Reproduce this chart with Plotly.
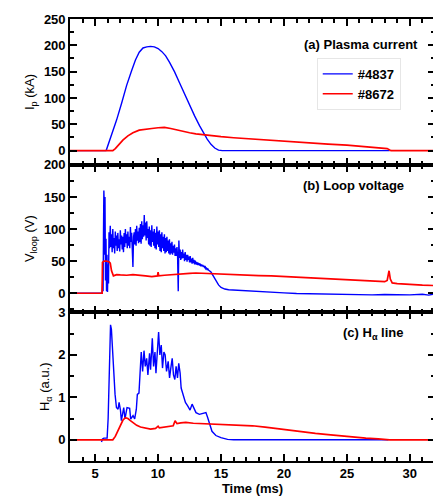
import plotly.graph_objects as go

# ---------------- data ----------------
series_names = ["#4837", "#8672"]

# (a) plasma current (kA)
t_ip_4837 = [3.0, 5.85, 5.9, 6.3, 6.7, 7.1, 7.5, 7.9, 8.2, 8.5, 8.8, 9.1, 9.4, 9.7, 10.0, 10.3,
             10.6, 10.9, 11.3, 11.7, 12.1, 12.5, 12.9, 13.3, 13.6, 13.9, 14.2, 14.5, 14.8, 15.1,
             20.0, 25.0, 28.4]
ip_4837 = [0, 0, 2, 28, 58, 90, 124, 152, 172, 187, 195, 197, 198, 197, 194, 188,
           180, 168, 150, 129, 107, 86, 66, 47, 34, 22, 12, 5, 1, 0,
           0, 0, 0]

t_ip_8672 = [3.0, 6.4, 6.6, 6.9, 7.2, 7.6, 8.0, 8.5, 9.0, 9.5, 10.0, 10.5, 11.0, 11.5, 12.0,
             12.5, 13.0, 14.0, 15.0, 16.0, 17.5, 19.0, 20.5, 22.0, 23.5, 25.0, 26.5, 27.5,
             28.2, 28.5, 32.0]
ip_8672 = [0, 0, 4, 12, 20, 28, 34, 39, 41, 42, 43.5, 44, 42, 39, 36,
           34, 32, 29, 26.5, 24.5, 22, 19, 16.5, 14.5, 12.5, 10.5, 8, 6,
           4, 0, 0]

# (b) loop voltage (V)
t_v_4837 = [3.0, 5.55, 5.6, 5.63, 5.66, 5.69, 5.72, 5.75, 5.78, 5.82, 5.86, 5.9, 5.94, 5.98,
            6.02, 6.06, 6.1, 6.14,
            6.20, 6.25, 6.30, 6.35, 6.40, 6.45, 6.50, 6.55, 6.60, 6.65, 6.70, 6.75, 6.80, 6.85,
            6.90, 6.95, 7.00, 7.05, 7.10, 7.15, 7.20, 7.25, 7.30, 7.35, 7.40, 7.45, 7.50, 7.55,
            7.60, 7.65, 7.70, 7.75, 7.80, 7.85, 7.90, 7.95, 8.00, 8.05, 8.10, 8.15, 8.20, 8.25,
            8.30, 8.35, 8.40, 8.45, 8.50, 8.55, 8.60, 8.65, 8.70, 8.75, 8.80, 8.85, 8.90, 8.95,
            9.00, 9.05, 9.10, 9.15, 9.20, 9.25, 9.30, 9.35, 9.40, 9.45, 9.50, 9.55, 9.60, 9.65,
            9.70, 9.75, 9.80, 9.85, 9.90, 9.95, 10.00, 10.05, 10.10, 10.15, 10.20, 10.25, 10.30,
            10.35, 10.40, 10.45, 10.50, 10.55, 10.60, 10.65, 10.70, 10.75, 10.80, 10.85, 10.90,
            10.95, 11.00, 11.05, 11.10, 11.15, 11.20, 11.25, 11.30, 11.35, 11.40, 11.45, 11.50,
            11.55, 11.60, 11.65, 11.70, 11.75, 11.80, 11.85, 11.90, 11.95, 12.00, 12.05, 12.10,
            12.15, 12.20, 12.25, 12.30, 12.35, 12.40, 12.45, 12.50, 12.55, 12.60, 12.65, 12.70,
            12.75, 12.80, 12.85, 12.90, 12.95, 13.00, 13.05, 13.10, 13.15, 13.20, 13.25, 13.30,
            13.35, 13.40, 13.45, 13.50, 13.55, 13.60, 13.65, 13.70, 13.75, 13.80, 13.85, 13.90,
            13.95, 14.00,
            14.2, 14.4, 14.6, 14.8, 15.0, 15.3, 15.6, 16.0, 17.0, 18.0, 19.0, 20.0, 21.0,
            22.0, 23.0, 24.0, 25.0, 26.0, 27.0, 28.0, 29.0, 30.0, 31.0, 31.5, 32.0]
v_4837 = [0, 0, 22, 3, 90, 160, 140, 60, 150, 20, 85, 3, 60, 2,
          45, 15, 95, 70,
          105, 72, 92, 64, 100, 70, 86, 62, 96, 74, 90, 66, 94, 70,
          84, 65, 98, 76, 90, 68, 88, 64, 94, 72, 100, 78, 92, 70,
          96, 74, 88, 70, 103, 80, 94, 72, 41, 88, 95, 76, 100, 74,
          105, 82, 96, 78, 102, 80, 108, 77, 112, 84, 106, 88, 122, 90,
          110, 82, 112, 86, 100, 76, 104, 74, 98, 72, 106, 80, 96, 74,
          100, 70, 94, 68, 104, 76, 96, 72, 98, 66, 92, 64, 95,
          70, 88, 66, 92, 62, 86, 64, 88, 66, 82, 62, 84,
          60, 78, 62, 80, 60, 74, 63, 76, 58, 70, 58, 72,
          56, 3, 82, 55, 68, 52, 64, 54, 68, 55, 62, 50,
          64, 52, 60, 49, 60, 52, 57, 48, 58, 48, 54, 46,
          55, 47, 52, 45, 51, 45, 49, 44, 48, 44, 47, 43,
          46, 42, 45, 42, 44, 41, 43, 40, 41, 38, 39, 37,
          38, 36,
          33, 26, 19, 13, 9, 6.5, 5.5, 5, 3.5, 2, 1, 0.5, -0.5,
          -1, -1.5, -1.5, -2, -2, -2.5, -2, -2.5, -2.5, -1.5, -3, -1]

t_v_8672 = [3.0, 5.55, 5.58, 5.7, 5.9, 6.1, 6.2, 6.3, 6.45, 6.7, 7.0, 7.5, 8.0, 8.5, 9.0,
            9.5, 9.95, 10.0, 10.05, 10.5, 11.0, 11.5, 12.0, 12.5, 13.0, 13.5, 14.0, 15.0,
            16.0, 17.0, 18.0, 19.0, 20.0, 21.0, 22.0, 23.0, 24.0, 25.0, 26.0, 27.0, 28.0,
            28.2, 28.35, 28.45, 28.6, 29.0, 30.0, 31.0, 32.0]
v_8672 = [0, 0, 48, 50, 50, 49, 47, 35, 27, 29, 28.5, 28, 29, 27.5, 27,
          26, 27, 33, 27, 28, 29, 30, 30, 31, 31.5, 31, 31, 30,
          29.5, 28.5, 27.5, 27, 26, 25, 23.5, 22.5, 21.5, 20.5, 19.5, 18.5, 18,
          20, 35, 22, 16, 15, 13.5, 12.5, 12]

# (c) H-alpha (a.u.)
t_h_4837 = [5.50, 5.58, 5.69, 5.95, 6.03, 6.11, 6.22, 6.29, 6.37, 6.48, 6.58, 6.69, 6.82,
            6.90, 7.01, 7.08, 7.27, 7.37, 7.53, 7.74, 7.82, 8.01, 8.14, 8.27, 8.35, 8.48,
            8.56, 8.66, 8.77, 8.88, 8.98, 9.09, 9.19, 9.32, 9.40, 9.54, 9.64, 9.75, 9.83,
            9.93, 10.04, 10.14, 10.25, 10.35, 10.46, 10.56, 10.67, 10.80, 10.91, 11.01,
            11.12, 11.22, 11.33, 11.43, 11.54, 11.64, 11.75, 11.83, 11.96, 12.17, 12.35,
            12.54, 12.70, 12.85, 13.01, 13.28, 13.54, 13.80, 13.93, 14.07, 14.28, 14.59,
            14.99, 15.52, 16.0, 28.3]
h_4837 = [-0.05, 0.02, 0.04, 0.04, 0.5, 1.6, 2.71, 2.6, 2.15, 1.53, 1.07, 0.76, 0.72,
          0.88, 0.7, 0.45, 0.76, 0.49, 0.76, 0.74, 0.49, 0.57, 0.49, 0.72, 1.07, 1.1,
          1.69, 2.07, 1.61, 2.1, 1.73, 1.92, 1.53, 2.04, 1.65, 2.39, 1.73, 2.07, 1.57,
          2.15, 2.54, 2.0, 2.23, 1.69, 2.07, 2.0, 1.61, 1.85, 1.46, 1.69,
          1.92, 1.53, 1.42, 1.73, 1.46, 1.8, 1.57, 1.22, 1.07, 0.88, 0.8,
          0.7, 0.84, 0.76, 0.64, 0.6, 0.62, 0.64, 0.53, 0.41, 0.2, 0.1,
          0.05, 0.01, 0, 0]

t_h_8672 = [3.0, 6.4, 6.6, 6.8, 7.0, 7.2, 7.4, 7.6, 7.8, 8.0, 8.3, 8.6, 9.0, 9.4, 9.8, 10.0,
            10.1, 10.4, 10.8, 11.2, 11.35, 11.5, 11.8, 12.2, 12.8, 13.5, 14.5, 15.5, 16.5,
            17.5, 18.5, 19.5, 20.5, 21.5, 22.5, 23.5, 24.5, 25.5, 26.5, 27.5, 28.2, 28.4, 32.0]
h_8672 = [0, 0, 0.08, 0.22, 0.36, 0.46, 0.52, 0.5, 0.45, 0.4, 0.34, 0.3, 0.27, 0.25, 0.27, 0.32,
          0.28, 0.29, 0.3, 0.33, 0.45, 0.38, 0.4, 0.41, 0.39, 0.38, 0.37, 0.36, 0.35,
          0.33, 0.3, 0.26, 0.23, 0.19, 0.15, 0.12, 0.09, 0.06, 0.04, 0.02, 0.01, 0, 0]

panel_titles = ["(a) Plasma current", "(b) Loop voltage", "(c) H<sub>α</sub> line"]
y_titles = ["I<sub>p</sub> (kA)", "V<sub>loop</sub> (V)", "H<sub>α</sub> (a.u.)"]
x_title = "Time (ms)"

# ---------------- figure ----------------
BLUE = "#0000FF"
RED = "#FF0000"
FONT = "Liberation Sans, Arial, sans-serif"

fig = go.Figure()
panels = [
    (t_ip_4837, ip_4837, t_ip_8672, ip_8672, "x", "y"),
    (t_v_4837, v_4837, t_v_8672, v_8672, "x2", "y2"),
    (t_h_4837, h_4837, t_h_8672, h_8672, "x3", "y3"),
]
for i, (tb, yb, tr, yr, xa, ya) in enumerate(panels):
    fig.add_trace(go.Scatter(x=tb, y=yb, mode="lines", name=series_names[0],
                             line=dict(color=BLUE, width=1.4), xaxis=xa, yaxis=ya,
                             showlegend=(i == 0)))
    fig.add_trace(go.Scatter(x=tr, y=yr, mode="lines", name=series_names[1],
                             line=dict(color=RED, width=1.7), xaxis=xa, yaxis=ya,
                             showlegend=(i == 0)))

tickfont = dict(family=FONT, size=13, color="black", weight="bold")
common = dict(showline=True, linecolor="black", linewidth=1.6, mirror="allticks",
              ticks="inside", ticklen=7, tickwidth=1.5, tickcolor="black",
              showgrid=False, zeroline=False, tickfont=tickfont)
minor_common = dict(ticks="inside", ticklen=4, tickwidth=1.5, tickcolor="black", showgrid=False)

xcommon = dict(common, range=[3, 32], dtick=5, tick0=0, minor=dict(minor_common, dtick=1))

# the page body adds an 8px offset, so the figure is sized/margined to compensate
fig.update_layout(
    width=433, height=489,
    margin=dict(l=62, r=4, t=7, b=33),
    paper_bgcolor="white", plot_bgcolor="white",
    font=dict(family=FONT, size=13, color="black"),
    xaxis=dict(xcommon, anchor="y", showticklabels=False, matches="x3"),
    xaxis2=dict(xcommon, anchor="y2", showticklabels=False, matches="x3"),
    xaxis3=dict(xcommon, anchor="y3", showticklabels=True,
                title=dict(text=x_title, font=dict(family=FONT, size=13, weight="bold"), standoff=2)),
    yaxis=dict(common, domain=[0.670, 1.0], range=[-27, 250], dtick=50, tick0=0,
               minor=dict(minor_common, dtick=25),
               title=dict(text=y_titles[0], font=dict(family=FONT, size=13), standoff=6)),
    yaxis2=dict(common, domain=[0.336, 0.670], range=[-30, 200], dtick=50, tick0=0,
                minor=dict(minor_common, dtick=25),
                title=dict(text=y_titles[1], font=dict(family=FONT, size=13), standoff=6)),
    yaxis3=dict(common, domain=[0.0, 0.336], range=[-0.5, 3], dtick=1, tick0=0,
                minor=dict(minor_common, dtick=0.5),
                title=dict(text=y_titles[2], font=dict(family=FONT, size=13), standoff=6)),
    legend=dict(x=0.676, y=0.912, xanchor="left", yanchor="top",
                bgcolor="white", bordercolor="#e6e6e6", borderwidth=1,
                font=dict(family=FONT, size=13, color="black", weight="bold"),
                tracegroupgap=0),
    showlegend=True,
)

ann_pos = [(0.959, 0.943), (0.921, 0.624), (0.921, 0.288)]
for txt, (ax, ay) in zip(panel_titles, ann_pos):
    fig.add_annotation(text=txt, x=ax, y=ay, xref="paper", yref="paper",
                       xanchor="right", yanchor="middle", showarrow=False,
                       font=dict(family=FONT, size=13, color="black", weight="bold"))

fig.write_html("out.html")
